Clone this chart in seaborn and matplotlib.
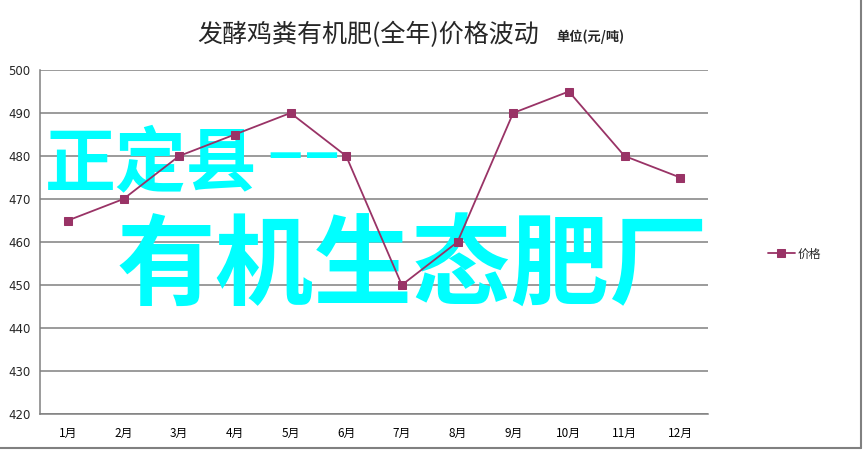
import matplotlib
matplotlib.use('Agg')
import matplotlib.pyplot as plt
import seaborn as sns
import pandas as pd
from matplotlib.lines import Line2D

months = ['1月', '2月', '3月', '4月', '5月', '6月', '7月', '8月', '9月', '10月', '11月', '12月']
prices = [465, 470, 480, 485, 490, 480, 450, 460, 490, 495, 480, 475]
y_ticks = [420, 430, 440, 450, 460, 470, 480, 490, 500]
series_name = '价格'
title_text = '发酵鸡粪有机肥(全年)价格波动'
unit_text = '单位(元/吨)'
overlay_1 = '正定县'
overlay_dash = '––'
overlay_2 = '有机生态肥厂'

sns.set_theme(style='white')
plt.rcParams['font.family'] = ['Noto Sans CJK SC', 'DejaVu Sans']

W, H = 863, 450
fig = plt.figure(figsize=(W / 100, H / 100), dpi=100)
fig.patch.set_facecolor('white')

ax = fig.add_axes([40 / W, 1 - 414 / H, 668 / W, 344 / H])
df = pd.DataFrame({'月份': months, series_name: prices})
sns.lineplot(data=df, x='月份', y=series_name, ax=ax, color='#993366',
             marker='s', markersize=6, markeredgecolor='#993366',
             linewidth=1.3, label=series_name, zorder=5, sort=False)

ax.set_xlim(-0.5, len(months) - 0.5)
ax.set_ylim(y_ticks[0], y_ticks[-1])
ax.set_yticks(y_ticks)
ax.set_yticklabels([str(v) for v in y_ticks], fontsize=8.5, family=['DejaVu Sans'])
ax.set_xticks(range(len(months)))
ax.set_xticklabels(months, fontsize=8.5)
ax.set_xticks([i - 0.5 for i in range(len(months) + 1)], minor=True)
ax.tick_params(axis='x', which='major', length=0, pad=9, colors='black')
ax.tick_params(axis='x', which='minor', length=4, width=1, color='#808080', direction='out')
ax.tick_params(axis='y', which='major', length=4, width=1, color='#808080', direction='out', pad=3)
ax.set_xlabel('')
ax.set_ylabel('')
ax.yaxis.grid(True, color='#808080', linewidth=1.1)
ax.set_axisbelow(True)
for s in ['top', 'right']:
    ax.spines[s].set_visible(False)
for s in ['left', 'bottom']:
    ax.spines[s].set_color('#808080')
    ax.spines[s].set_linewidth(1.1)

leg = ax.legend(loc='center left', bbox_to_anchor=(757 / W, 1 - 254 / H),
                bbox_transform=fig.transFigure, frameon=False, fontsize=8.5,
                handlelength=2.3, handletextpad=0.2)

fig.text(368 / W, 1 - 35 / H, title_text, ha='center', va='center', fontsize=18)
fig.text(556 / W, 1 - 37 / H, unit_text, ha='left', va='center', fontsize=9.5, fontweight='bold')

ft = fig.transFigure
ax.text(45 / W, 1 - 164 / H, overlay_1, ha='left', va='center', fontsize=51,
        fontweight='bold', color='#00FFFF', zorder=3, transform=ft, clip_on=False)
ax.text(266 / W, 1 - 147 / H, overlay_dash, ha='left', va='center_baseline', fontsize=54,
        color='#00FFFF', zorder=3, transform=ft, clip_on=False,
        family=['DejaVu Sans'])
ax.text(117 / W, 1 - 267 / H, overlay_2, ha='left', va='center', fontsize=71,
        fontweight='bold', color='#00FFFF', zorder=3, transform=ft, clip_on=False)

fig.add_artist(Line2D([860.5 / W, 860.5 / W], [1 - 448 / H, 1], color='#808080', linewidth=1.5))
fig.add_artist(Line2D([0, 860.5 / W], [1 - 448 / H, 1 - 448 / H], color='#808080', linewidth=1.5))

fig.savefig('out.png', dpi=100, facecolor='white')
